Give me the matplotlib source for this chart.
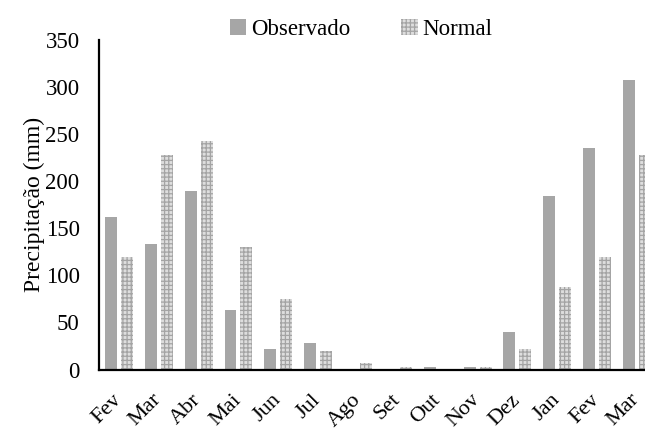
import matplotlib
matplotlib.use("Agg")
import matplotlib.pyplot as plt
import matplotlib.transforms as mtransforms
import numpy as np

# Monthly precipitation (mm)
months = ["Fev", "Mar", "Abr", "Mai", "Jun", "Jul", "Ago", "Set",
          "Out", "Nov", "Dez", "Jan", "Fev", "Mar"]
observado = [162, 133, 190, 63, 22, 28, 0, 0, 3, 3, 40, 184, 235, 307]
normal = [120, 228, 243, 130, 75, 20, 7, 3, 0, 3, 22, 88, 120, 228]

plt.rcParams["font.family"] = ["Liberation Serif", "DejaVu Serif"]
plt.rcParams["hatch.linewidth"] = 0.9

W, H = 645, 433
fig = plt.figure(figsize=(W / 100, H / 100), dpi=100)
ax = fig.add_axes([99 / W, (H - 369.5) / H, (W - 99) / W, 329.5 / H])

x = np.arange(len(months))
bw = 0.30
ax.bar(x - 0.20, observado, width=bw, color="#a6a6a6", linewidth=0,
       label="Observado")
ax.bar(x + 0.20, normal, width=bw, facecolor="#dedede", edgecolor="#a4a4a4",
       hatch="++++", linewidth=0, label="Normal")

ax.set_xlim(-0.5, -0.5 + (W - 99) / 39.85)
ax.set_ylim(0, 350)
ax.set_yticks(np.arange(0, 351, 50))
ax.set_xticks(x)
ax.set_xticklabels(months, rotation=45, ha="right", rotation_mode="anchor")
ax.tick_params(axis="both", length=0, labelsize=16.5, colors="black")
ax.tick_params(axis="y", pad=14)
ax.tick_params(axis="x", pad=15, labelsize=16)

# nudge the rotated month labels so their ends sit under the group centres
shift = mtransforms.ScaledTranslation(-0.07, 0.0, fig.dpi_scale_trans)
for lbl in ax.get_xticklabels():
    lbl.set_transform(lbl.get_transform() + shift)

for s in ("top", "right"):
    ax.spines[s].set_visible(False)
for s in ("left", "bottom"):
    ax.spines[s].set_linewidth(1.6)
    ax.spines[s].set_color("black")

ax.set_ylabel("Precipitação (mm)", fontsize=17, labelpad=0.5)

ax.legend(loc="lower center", bbox_to_anchor=(0.48, 0.972), ncol=2,
          frameon=False, fontsize=16.5, handlelength=0.7, handleheight=0.7,
          handletextpad=0.2, columnspacing=2.25, borderaxespad=0)

fig.savefig("out.png", dpi=100)
